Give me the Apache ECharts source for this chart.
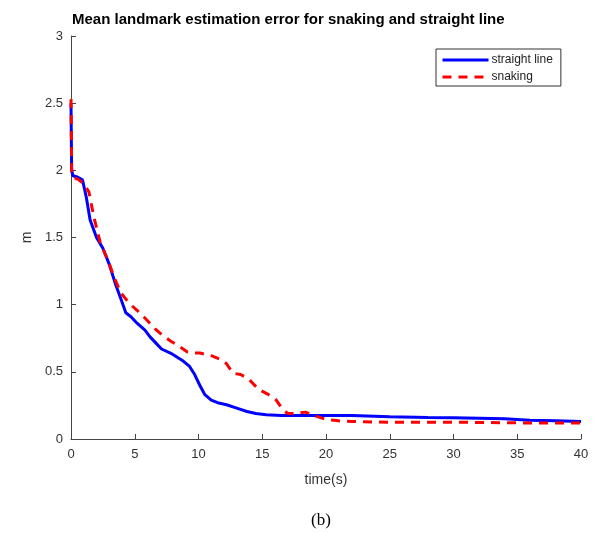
<!DOCTYPE html>
<html>
<head>
<meta charset="utf-8">
<script src="https://cdn.jsdelivr.net/npm/echarts@6/dist/echarts.min.js"></script>
<style>
  html, body { margin: 0; padding: 0; background: #fff; }
  #main { width: 596px; height: 534px; }
</style>
</head>
<body>
<div id="main"></div>
<script>
// 直线运动
var straightTime = [0, 0.05, 0.15, 0.5, 0.9, 1.2, 1.5, 2.0, 2.5, 3.0, 3.5, 4.0, 4.3, 4.7, 5.2, 5.8, 6.2, 6.7, 7.1, 7.8, 8.3, 8.8, 9.3, 9.7, 10.1, 10.5, 11.0, 11.5, 12.2, 13.0, 13.8, 14.5, 15.3, 16.5, 18, 20, 22, 25, 28, 30, 32, 34, 36, 38, 40];
var straightVal = [2.5, 2.0, 1.96, 1.95, 1.93, 1.8, 1.63, 1.50, 1.42, 1.30, 1.15, 1.02, 0.94, 0.91, 0.86, 0.81, 0.76, 0.71, 0.67, 0.64, 0.61, 0.58, 0.54, 0.48, 0.40, 0.33, 0.29, 0.27, 0.255, 0.23, 0.205, 0.19, 0.18, 0.175, 0.175, 0.175, 0.175, 0.165, 0.16, 0.158, 0.155, 0.15, 0.14, 0.135, 0.13];
// 蛇形运动
var snakingTime = [0, 0.05, 0.15, 0.6, 1.0, 1.4, 1.8, 2.3, 2.9, 3.4, 3.9, 4.4, 4.8, 5.5, 6.0, 6.6, 7.2, 7.8, 8.5, 9.1, 9.6, 10.1, 11.0, 11.8, 12.2, 12.7, 13.3, 13.9, 14.4, 14.9, 15.5, 16.1, 16.6, 17.0, 17.6, 18.4, 19.2, 20.0, 21, 22, 25, 30, 35, 40];
var snakingVal = [2.53, 2.0, 1.95, 1.93, 1.90, 1.84, 1.65, 1.46, 1.33, 1.20, 1.09, 1.03, 0.99, 0.93, 0.88, 0.82, 0.77, 0.73, 0.69, 0.65, 0.64, 0.64, 0.62, 0.59, 0.56, 0.49, 0.48, 0.45, 0.40, 0.36, 0.33, 0.29, 0.22, 0.19, 0.19, 0.20, 0.17, 0.145, 0.135, 0.13, 0.125, 0.125, 0.12, 0.12];
var seriesNames = ['straight line', 'snaking'];

function pairs(xs, ys) {
    var out = [];
    for (var i = 0; i < xs.length; i++) out.push([xs[i], ys[i]]);
    return out;
}

var myChart = echarts.init(document.getElementById('main'));
var axisColor = '#444';
var font = 'Liberation Sans, Arial, sans-serif';
var option = {
    animation: false,
    backgroundColor: '#fff',
    title: {
        text: 'Mean landmark estimation error for snaking and straight line',
        left: 67,
        top: 7,
        textStyle: {
            fontSize: 15,
            fontWeight: 'bold',
            color: '#000',
            fontFamily: font
        }
    },
    legend: {
        orient: 'vertical',
        left: 436,
        top: 49,
        padding: [5, 8, 3, 5],
        itemGap: 5,
        itemWidth: 46,
        itemHeight: 14,
        borderColor: '#333',
        borderWidth: 1,
        borderRadius: 0,
        backgroundColor: '#fff',
        itemStyle: { opacity: 0 },
        lineStyle: { width: 3 },
        textStyle: { fontSize: 12, color: '#222', fontFamily: font, padding: [0, 0, 0, -2] },
        data: seriesNames
    },
    grid: {
        left: 71,
        right: 15,
        top: 36,
        bottom: 95
    },
    xAxis: {
        type: 'value',
        min: 0,
        max: 40,
        interval: 5,
        name: 'time(s)',
        nameLocation: 'middle',
        nameGap: 34,
        nameTextStyle: { fontSize: 14, color: '#333', fontFamily: font },
        axisLine: { lineStyle: { color: axisColor, width: 1 } },
        axisTick: { inside: true, length: 5, lineStyle: { color: axisColor } },
        axisLabel: { fontSize: 13, color: '#333', fontFamily: font, margin: 9 },
        splitLine: { show: false }
    },
    yAxis: {
        type: 'value',
        min: 0,
        max: 3,
        interval: 0.5,
        name: 'm',
        nameLocation: 'middle',
        nameGap: 33,
        nameTextStyle: { fontSize: 14, color: '#333', fontFamily: font },
        axisLine: { show: true, lineStyle: { color: axisColor, width: 1 } },
        axisTick: { show: true, inside: true, length: 5, lineStyle: { color: axisColor } },
        axisLabel: { fontSize: 13, color: '#333', fontFamily: font, margin: 8 },
        splitLine: { show: false }
    },
    graphic: [{
        type: 'text',
        left: 311,
        top: 512,
        style: {
            text: '(b)',
            fontSize: 17,
            fontFamily: 'Liberation Serif, Times New Roman, serif',
            fill: '#000'
        }
    }],
    series: [
        {
            name: seriesNames[0],
            type: 'line',
            symbol: 'none',
            data: pairs(straightTime, straightVal),
            lineStyle: { color: '#0000ff', width: 3 },
            itemStyle: { color: '#0000ff' },
            z: 2
        },
        {
            name: seriesNames[1],
            type: 'line',
            symbol: 'none',
            data: pairs(snakingTime, snakingVal),
            lineStyle: { color: '#ff0000', width: 3, type: [9, 7] },
            itemStyle: { color: '#ff0000' },
            z: 3
        }
    ]
};
myChart.setOption(option);
</script>
</body>
</html>
